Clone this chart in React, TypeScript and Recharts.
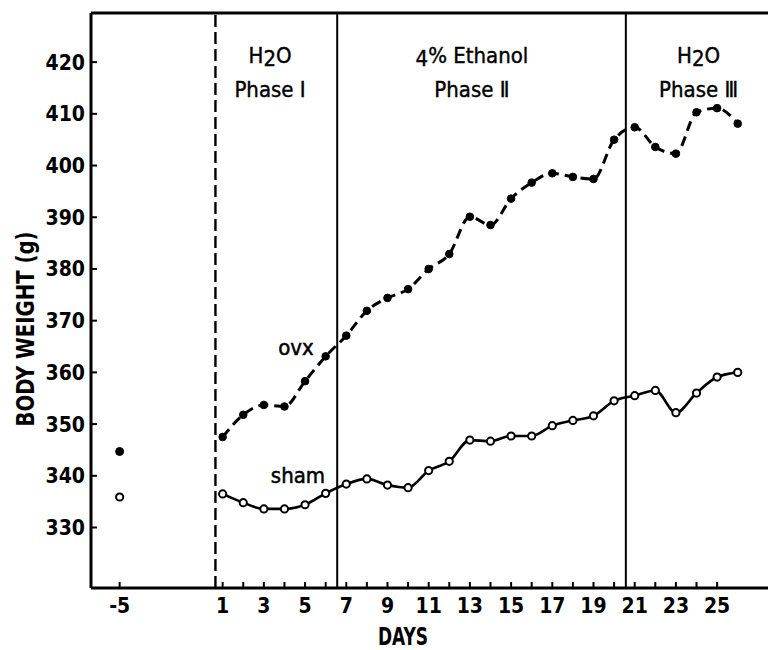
import { Line, LineChart, ReferenceLine, XAxis, YAxis } from "recharts";

// days of treatment and mean body weight (g)
const days = [1, 2, 3, 4, 5, 6, 7, 8, 9, 10, 11, 12, 13, 14, 15, 16, 17, 18, 19, 20, 21, 22, 23, 24, 25, 26];
const ovxWeights = [
  347.5, 351.8, 353.7, 353.4, 358.3, 363.1, 367.1, 371.9, 374.4, 376.1, 380.0, 382.9, 390.1,
  388.5, 393.6, 396.7, 398.5, 397.8, 397.4, 405.0, 407.4, 403.6, 402.3, 410.3, 411.1, 408.1,
];
const shamWeights = [
  336.5, 334.8, 333.6, 333.6, 334.4, 336.6, 338.4, 339.4, 338.2, 337.7, 341.0, 342.8, 346.9,
  346.7, 347.7, 347.7, 349.7, 350.7, 351.6, 354.5, 355.5, 356.5, 352.2, 356.0, 359.1, 360.0,
];

// baseline measurement before the study, drawn across a break in the day axis
const preDay = -5;
const preOvx = 344.7;
const preSham = 335.9;
const breakPos = -4;

const dayTicks = [-5, 1, 2, 3, 4, 5, 6, 7, 8, 9, 10, 11, 12, 13, 14, 15, 16, 17, 18, 19, 20, 21, 22, 23, 24, 25];
const weightTicks = [330, 340, 350, 360, 370, 380, 390, 400, 410, 420];

const phaseStarts = [0.65, 6.56, 20.57];
const phaseLabelAt = [3.3, 13.1, 24.1];
const phaseTitles = ["H2O", "4% Ethanol", "H2O"];
const phaseNames = ["Phase Ⅰ", "Phase Ⅱ", "Phase Ⅲ"];

const FONT = "'DejaVu Sans Condensed', 'Liberation Sans Narrow', 'DejaVu Sans', sans-serif";

const toPos = (d: number) => (d === preDay ? breakPos : d);

const rows = [
  { x: toPos(preDay), ovxPre: preOvx, shamPre: preSham },
  ...days.map((d, i) => ({ x: toPos(d), ovx: ovxWeights[i], sham: shamWeights[i] })),
];

const fmtDay = (pos: number) => {
  if (pos === breakPos) return String(preDay);
  return pos % 2 === 1 ? String(pos) : "";
};

// "H2O" -> H, lowered 2, O
const chem = (s: string) =>
  s.split(/(\d)/).map((part, i) =>
    /^\d$/.test(part) ? (
      <tspan key={i} dy={3}>
        {part}
      </tspan>
    ) : (
      <tspan key={i} dy={i > 0 ? -3 : 0}>
        {part}
      </tspan>
    )
  );

const PhaseLabel = (props: any) => {
  const { viewBox, title, name } = props;
  const cx = viewBox.x;
  return (
    <g fontFamily={FONT} fontSize={22} fill="#000" textAnchor="middle" stroke="#000" strokeWidth={0.4}>
      <text x={cx} y={63}>
        {chem(title)}
      </text>
      <text x={cx} y={97}>
        {name}
      </text>
    </g>
  );
};

const tickStyle = { fill: "#000", fontSize: 21, fontWeight: "bold", fontFamily: FONT };

export default function App() {
  return (
    <div style={{ position: "absolute", left: 0, top: 0, width: 768, height: 650, background: "#fff" }}>
      <LineChart width={768} height={650} data={rows} margin={{ top: 13, right: 0, bottom: 0, left: 0 }}>
        <XAxis
          type="number"
          dataKey="x"
          domain={[-5.39, 27.47]}
          allowDataOverflow
          ticks={dayTicks.map(toPos)}
          interval={0}
          tickFormatter={fmtDay}
          tickSize={-6}
          tickMargin={16}
          height={62}
          axisLine={{ stroke: "#000", strokeWidth: 3 }}
          tickLine={{ stroke: "#000", strokeWidth: 2 }}
          tick={tickStyle}
        />
        <YAxis
          type="number"
          domain={[318.3, 429.5]}
          allowDataOverflow
          ticks={weightTicks}
          interval={0}
          width={91}
          tickSize={-6}
          tickMargin={12}
          axisLine={{ stroke: "#000", strokeWidth: 3 }}
          tickLine={{ stroke: "#000", strokeWidth: 2 }}
          tick={tickStyle}
        />
        <ReferenceLine y={429.5} stroke="#000" strokeWidth={3} />
        {phaseStarts.map((x, i) => (
          <ReferenceLine
            key={`p${i}`}
            x={x}
            stroke="#000"
            strokeWidth={i === 0 ? 2.4 : 2}
            strokeDasharray={i === 0 ? "12 5" : undefined}
          />
        ))}
        {phaseLabelAt.map((x, i) => (
          <ReferenceLine
            key={`l${i}`}
            x={x}
            stroke="none"
            label={<PhaseLabel title={phaseTitles[i]} name={phaseNames[i]} />}
          />
        ))}
        <Line
          dataKey="ovx"
          type="monotone"
          stroke="#000"
          strokeWidth={3}
          strokeDasharray="10 6"
          dot={{ r: 3.8, fill: "#000", stroke: "#000", strokeWidth: 1, strokeDasharray: "none" }}
          isAnimationActive={false}
        />
        <Line
          dataKey="sham"
          type="monotone"
          stroke="#000"
          strokeWidth={2.6}
          dot={{ r: 3.6, fill: "#fff", stroke: "#000", strokeWidth: 2 }}
          isAnimationActive={false}
        />
        <Line
          dataKey="ovxPre"
          stroke="none"
          dot={{ r: 4, fill: "#000", stroke: "#000", strokeWidth: 1 }}
          isAnimationActive={false}
        />
        <Line
          dataKey="shamPre"
          stroke="none"
          dot={{ r: 3.6, fill: "#fff", stroke: "#000", strokeWidth: 2 }}
          isAnimationActive={false}
        />
        <text x={296} y={355} textAnchor="middle" fontFamily={FONT} fontSize={22} stroke="#000" strokeWidth={0.5}>
          ovx
        </text>
        <text x={298} y={483} textAnchor="middle" fontFamily={FONT} fontSize={22} stroke="#000" strokeWidth={0.5}>
          sham
        </text>
        <text
          x={403}
          y={645}
          textAnchor="middle"
          fontFamily={FONT}
          fontSize={24}
          fontWeight="bold"
          textLength={50}
          lengthAdjust="spacingAndGlyphs"
        >
          DAYS
        </text>
        <text
          transform="translate(34 329) rotate(-90)"
          textAnchor="middle"
          fontFamily={FONT}
          fontSize={24}
          fontWeight="bold"
          textLength={195}
          lengthAdjust="spacingAndGlyphs"
        >
          BODY WEIGHT (g)
        </text>
      </LineChart>
    </div>
  );
}
